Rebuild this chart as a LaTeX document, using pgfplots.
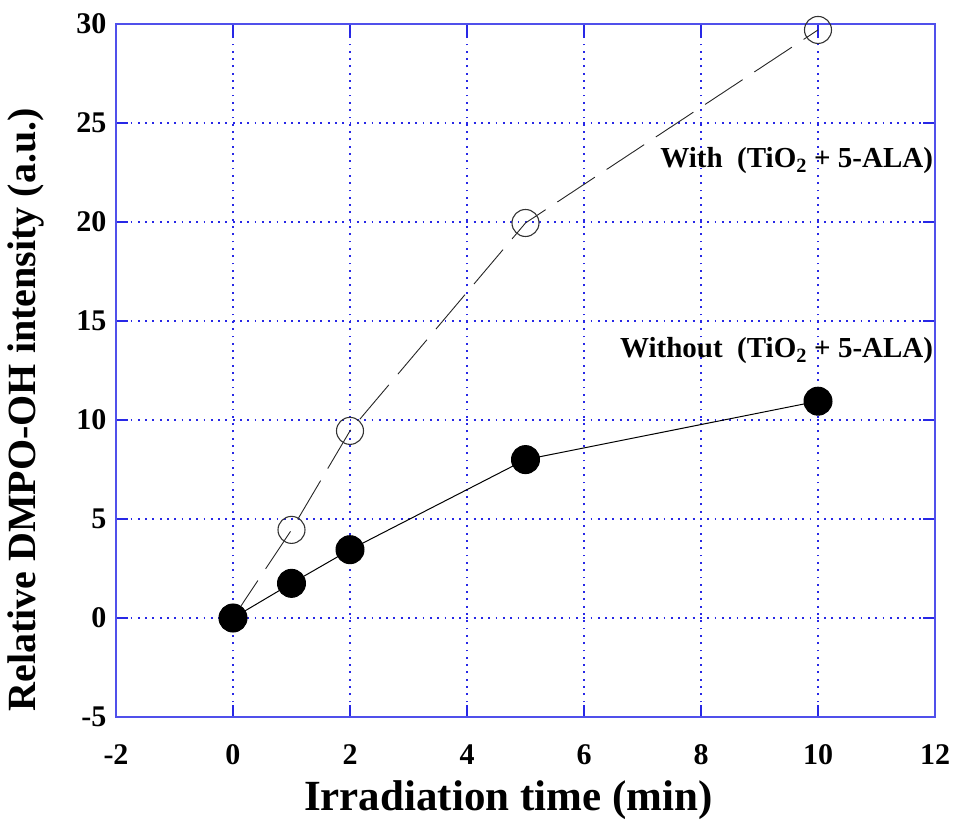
\documentclass[border=0pt]{standalone}
\usepackage{fontspec}
\setmainfont{Liberation Serif}
\usepackage{pgfplots}
\pgfplotsset{compat=1.18}
\definecolor{frameblue}{RGB}{80,80,235}
\definecolor{gridblue}{RGB}{40,40,230}
\begin{document}
\begin{tikzpicture}
\useasboundingbox (-116bp,-110bp) rectangle (837bp,717bp);
\begin{axis}[
  scale only axis,
  width=819bp, height=693bp,
  xmin=-2, xmax=12, ymin=-5, ymax=30,
  xtick={-2,0,...,12}, ytick={-5,0,...,30},
  tick align=inside,
  major tick length=12bp,
  axis line style={frameblue, line width=1.6bp},
  every tick/.style={gridblue, line width=1.2bp},
  grid=major,
  major grid style={gridblue, line width=1.3bp, dash pattern=on 1.8bp off 5.5bp},
  /pgf/number format/assume math mode=true,
  ticklabel style={font=\fontsize{30bp}{34bp}\selectfont\bfseries},
  xticklabel style={yshift=-24bp},
  yticklabel style={xshift=-6bp},
  xlabel={Irradiation time (min)},
  ylabel={Relative DMPO-OH intensity (a.u.)},
  xlabel style={font=\fontsize{43bp}{48bp}\selectfont\bfseries, at={(axis description cs:0.479,-0.12)}, anchor=center},
  ylabel style={font=\fontsize{40bp}{45bp}\selectfont\bfseries, at={(axis description cs:-0.110,0.443)}, anchor=center, rotate=0},
  clip=false,
]
\addplot[black!85, line width=0.9bp, dash pattern=on 45bp off 14bp,
  mark=o, mark size=13.5bp, mark options={solid, draw=black!80, line width=1.1bp}]
  coordinates {(0,0) (1,4.45) (2,9.45) (5,19.95) (10,29.7)};
\addplot[black, line width=1bp, mark=*, mark size=14bp, mark options={solid, fill=black}]
  coordinates {(0,0) (1,1.75) (2,3.45) (5,8.0) (10,10.95)};
\node[anchor=east, font=\fontsize{29bp}{33bp}\selectfont\bfseries, inner sep=0pt] at (axis cs:11.97,23.1) {With\ \ (TiO\textsubscript{2} + 5-ALA)};
\node[anchor=east, font=\fontsize{29bp}{33bp}\selectfont\bfseries, inner sep=0pt] at (axis cs:11.97,13.5) {Without\ \ (TiO\textsubscript{2} + 5-ALA)};
\end{axis}
\end{tikzpicture}
\end{document}
